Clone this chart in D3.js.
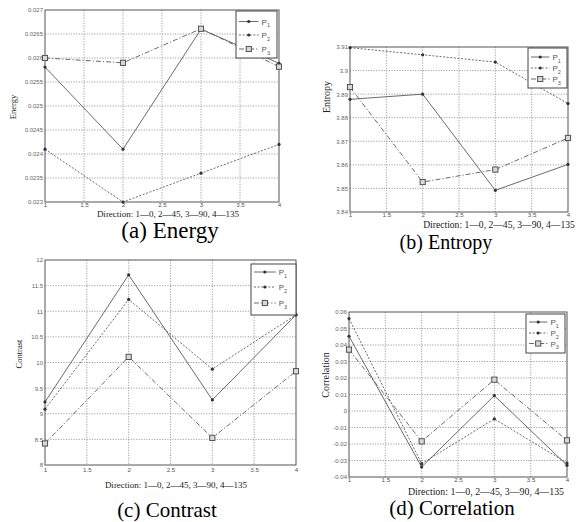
<!DOCTYPE html>
<html><head><meta charset="utf-8">
<script src="https://cdn.jsdelivr.net/npm/d3@7"></script>
<style>body{margin:0;background:#fff}svg{display:block}</style>
</head><body>
<svg id="chart" width="582" height="522"></svg>
<script>
// ---------- data ----------
const directions = [1, 2, 3, 4];
const xTickValues = [1, 1.5, 2, 2.5, 3, 3.5, 4];
const xTickLabels = ["1", "1.5", "2", "2.5", "3", "3.5", "4"];
const seriesNames = ["P", "P", "P"];
const seriesSubs = ["1", "2", "3"];
const xAxisTitle = "Direction: 1\u20140, 2\u201445, 3\u201490, 4\u2014135";

const energyP1 = [0.02581, 0.0241, 0.0266, 0.02589];
const energyP2 = [0.0241, 0.0230, 0.0236, 0.0242];
const energyP3 = [0.0260, 0.0259, 0.02661, 0.02582];
const energyTicks = [0.023, 0.0235, 0.024, 0.0245, 0.025, 0.0255, 0.026, 0.0265, 0.027];
const energyTickLabels = ["0.023", "0.0235", "0.024", "0.0245", "0.025", "0.0255", "0.026", "0.0265", "0.027"];

const entropyP1 = [3.8878, 3.8900, 3.8492, 3.8602];
const entropyP2 = [3.9097, 3.9067, 3.9036, 3.8860];
const entropyP3 = [3.8930, 3.8527, 3.8580, 3.8714];
const entropyTicks = [3.84, 3.85, 3.86, 3.87, 3.88, 3.89, 3.90, 3.91];
const entropyTickLabels = ["3.84", "3.85", "3.86", "3.87", "3.88", "3.89", "3.9", "3.91"];

const contrastP1 = [9.23, 11.71, 9.27, 10.93];
const contrastP2 = [9.09, 11.23, 9.87, 10.93];
const contrastP3 = [8.42, 10.11, 8.53, 9.83];
const contrastTicks = [8, 8.5, 9, 9.5, 10, 10.5, 11, 11.5, 12];
const contrastTickLabels = ["8", "8.5", "9", "9.5", "10", "10.5", "11", "11.5", "12"];

const correlationP1 = [0.0453, -0.0339, 0.0093, -0.0329];
const correlationP2 = [0.0560, -0.0319, -0.0048, -0.0315];
const correlationP3 = [0.0372, -0.0184, 0.0190, -0.0178];
const correlationTicks = [-0.04, -0.03, -0.02, -0.01, 0, 0.01, 0.02, 0.03, 0.04, 0.05, 0.06];
const correlationTickLabels = ["-0.04", "-0.03", "-0.02", "-0.01", "0", "0.01", "0.02", "0.03", "0.04", "0.05", "0.06"];

const panelTitles = ["Energy", "Entropy", "Contrast", "Correlation"];
const captions = ["(a) Energy", "(b) Entropy", "(c) Contrast", "(d) Correlation"];

// ---------- layout ----------
const panels = [
  { series: [energyP1, energyP2, energyP3], ticks: energyTicks, tickLabels: energyTickLabels,
    l: 45, r: 279, t: 10, b: 202, leg: [236, 11, 277, 58], legY: [21.5, 35, 49],
    yl: [16, 107, 8.5], xl: [168, 216.5, 9], cap: [170, 238, 23], xtTop: 203.5 },
  { series: [entropyP1, entropyP2, entropyP3], ticks: entropyTicks, tickLabels: entropyTickLabels,
    l: 350, r: 568, t: 47, b: 212, leg: [528, 48, 567, 88], legY: [57, 68, 79],
    yl: [330, 97, 10], xl: [499, 227.5, 9.6], cap: [446, 248.5, 20], xtTop: 213.5 },
  { series: [contrastP1, contrastP2, contrastP3], ticks: contrastTicks, tickLabels: contrastTickLabels,
    l: 45, r: 296, t: 260, b: 465, leg: [251, 264, 296, 315], legY: [272, 287, 303],
    yl: [22, 354, 8.5], xl: [176, 487.5, 9], cap: [167, 517, 21], xtTop: 468.5 },
  { series: [correlationP1, correlationP2, correlationP3], ticks: correlationTicks, tickLabels: correlationTickLabels,
    l: 349, r: 567, t: 312, b: 477, leg: [526, 314, 565, 353], legY: [322, 333, 343.5],
    yl: [329, 375, 10], xl: [486, 494.5, 9.9], cap: [452, 515, 21], xtTop: 478 }
];

const styles = [
  { dash: null, marker: "dot" },
  { dash: "2,1.6", marker: "dot" },
  { dash: "5,2,1.2,2", marker: "square" }
];
const lineColor = "#5a5a5a";

const svg = d3.select("#chart");

function drawMarker(g, type, x, y) {
  if (type === "dot") {
    g.append("circle").attr("cx", x).attr("cy", y).attr("r", 1.6).attr("fill", "#333");
  } else {
    g.append("rect").attr("x", x - 2.6).attr("y", y - 2.6).attr("width", 5.2).attr("height", 5.2)
      .attr("fill", "#d8d8d8").attr("stroke", "#444").attr("stroke-width", 0.9);
  }
}

panels.forEach((p, i) => {
  const g = svg.append("g");
  const x = d3.scaleLinear().domain([1, 4]).range([p.l, p.r]);
  const y = d3.scaleLinear().domain([p.ticks[0], p.ticks[p.ticks.length - 1]]).range([p.b, p.t]);

  // grid
  const grid = g.append("g").attr("stroke", "#8a8a8a").attr("stroke-width", 0.8).attr("stroke-dasharray", "1.2,1.4");
  xTickValues.slice(1, -1).forEach(v => grid.append("line").attr("x1", x(v)).attr("x2", x(v)).attr("y1", p.t).attr("y2", p.b));
  p.ticks.slice(1, -1).forEach(v => grid.append("line").attr("x1", p.l).attr("x2", p.r).attr("y1", y(v)).attr("y2", y(v)));

  // axes (labels via d3 axes)
  const yAxis = d3.axisLeft(y).tickValues(p.ticks).tickSize(0).tickPadding(2)
    .tickFormat((d, k) => p.tickLabels[k]);
  const ya = g.append("g").attr("transform", `translate(${p.l},0)`).call(yAxis);
  ya.select(".domain").remove();
  ya.selectAll("text").attr("font-family", "Liberation Sans, Arial, sans-serif").attr("font-size", 6).attr("fill", "#666");

  const xAxis = d3.axisBottom(x).tickValues(xTickValues).tickSize(0).tickPadding(0)
    .tickFormat((d, k) => xTickLabels[k]);
  const xa = g.append("g").attr("transform", `translate(0,${p.xtTop})`).call(xAxis);
  xa.select(".domain").remove();
  xa.selectAll("text").attr("dy", "0.62em").attr("font-family", "Liberation Sans, Arial, sans-serif").attr("font-size", 6.2).attr("fill", "#555");

  // frame
  g.append("rect").attr("x", p.l).attr("y", p.t).attr("width", p.r - p.l).attr("height", p.b - p.t)
    .attr("fill", "none").attr("stroke", "#555").attr("stroke-width", 1);

  // series
  p.series.forEach((vals, s) => {
    const line = d3.line().x((d, k) => x(directions[k])).y(d => y(d));
    g.append("path").datum(vals).attr("d", line).attr("fill", "none")
      .attr("stroke", lineColor).attr("stroke-width", 0.9)
      .attr("stroke-dasharray", styles[s].dash);
    vals.forEach((v, k) => drawMarker(g, styles[s].marker, x(directions[k]), y(v)));
  });

  // legend
  const [lx0, ly0, lx1, ly1] = p.leg;
  g.append("rect").attr("x", lx0).attr("y", ly0).attr("width", lx1 - lx0).attr("height", ly1 - ly0)
    .attr("fill", "#fff").attr("stroke", "#444").attr("stroke-width", 1);
  seriesNames.forEach((nm, s) => {
    const yy = p.legY[s];
    const sx0 = lx0 + 3, sx1 = lx0 + (lx1 - lx0) * 0.55;
    g.append("line").attr("x1", sx0).attr("x2", sx1).attr("y1", yy).attr("y2", yy)
      .attr("stroke", lineColor).attr("stroke-width", 0.9).attr("stroke-dasharray", styles[s].dash);
    drawMarker(g, styles[s].marker, (sx0 + sx1) / 2, yy);
    const t = g.append("text").attr("x", sx1 + 3).attr("y", yy + 3)
      .attr("font-family", "Liberation Sans, Arial, sans-serif").attr("font-size", 8).attr("fill", "#555");
    t.append("tspan").text(nm);
    t.append("tspan").attr("dy", 2.5).attr("font-size", 5.5).text(seriesSubs[s]);
  });

  // y title
  g.append("text").attr("transform", `translate(${p.yl[0]},${p.yl[1]}) rotate(-90)`)
    .attr("text-anchor", "middle").attr("font-family", "Liberation Serif, Times New Roman, serif")
    .attr("font-size", p.yl[2]).attr("fill", "#222").text(panelTitles[i]);

  // x title
  g.append("text").attr("x", p.xl[0]).attr("y", p.xl[1]).attr("text-anchor", "middle")
    .attr("font-family", "Liberation Serif, Times New Roman, serif").attr("font-size", p.xl[2])
    .attr("fill", "#222").text(xAxisTitle);

  // caption
  g.append("text").attr("x", p.cap[0]).attr("y", p.cap[1]).attr("text-anchor", "middle")
    .attr("font-family", "Liberation Serif, Times New Roman, serif").attr("font-size", p.cap[2])
    .attr("fill", "#000").text(captions[i]);
});
</script>
</body></html>
